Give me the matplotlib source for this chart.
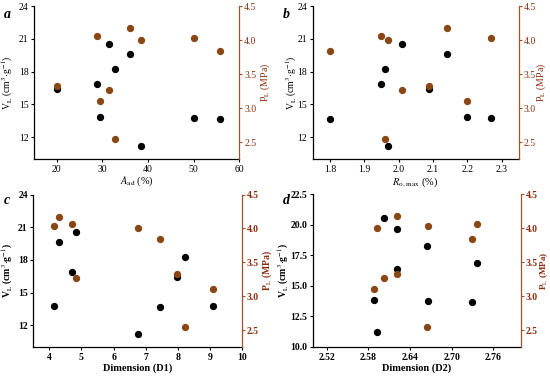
import matplotlib
matplotlib.use("Agg")
import matplotlib.pyplot as plt

plt.rcParams['font.family'] = ['Liberation Serif', 'DejaVu Serif']
plt.rcParams['mathtext.fontset'] = 'stix'

# nine samples
aad = [20.0, 31.4, 36.0, 32.8, 28.8, 29.4, 38.5, 50.1, 55.8]
ro_max = [2.09, 2.01, 2.14, 1.96, 1.95, 2.20, 1.97, 2.27, 1.80]
d1 = [7.97, 4.82, 4.31, 8.21, 4.70, 9.10, 6.75, 4.16, 7.44]
d2 = [2.621, 2.603, 2.621, 2.664, 2.736, 2.589, 2.593, 2.666, 2.729]
vl = [16.40, 20.53, 19.63, 18.27, 16.90, 13.80, 11.20, 13.72, 13.66]
pl = [3.32, 3.27, 4.17, 2.55, 4.06, 3.10, 4.00, 4.03, 3.84]

panel_letters = ['a', 'b', 'c', 'd']
xlabels = [r'$A_{\rm ad}$ (%)', r'$R_{\rm o,\,max}$ (%)', 'Dimension (D1)', 'Dimension (D2)']
xticks = [[20, 30, 40, 50, 60], [1.8, 1.9, 2.0, 2.1, 2.2, 2.3],
          [4, 5, 6, 7, 8, 9, 10], [2.52, 2.58, 2.64, 2.70, 2.76]]
xlims = [(15, 60), (1.75, 2.35), (3.5, 10), (2.5, 2.8)]
xfmt = ['{:.0f}', '{:.1f}', '{:.0f}', '{:.2f}']
ylims = [(10, 24), (10, 24), (10, 24), (10, 22.5)]
yticks = [[12, 15, 18, 21, 24]] * 3 + [[10.0, 12.5, 15.0, 17.5, 20.0, 22.5]]
yfmt = ['{:.0f}', '{:.0f}', '{:.0f}', '{:.1f}']
rticks = [2.5, 3.0, 3.5, 4.0, 4.5]
rlim = (2.25, 4.5)
bold = [False, False, True, True]

W, H = 550, 376
boxes = [(34, 6, 239.3, 159), (312.7, 6, 518.7, 159),
         (33.3, 194.5, 242, 347), (312.7, 194, 521, 347)]
letter_pos = [(4, 14), (283, 14), (4, 200), (283, 200)]
ylab_x = [(7, 265), (291, 541), (7, 267), (283.5, 544.5)]
rlab_size = [7, 7, 7, 6.5]
xdata = [aad, ro_max, d1, d2]

brown = '#8a4714'
spine_brown = '#a0522d'
label_red = '#8b2c0c'

fig = plt.figure(figsize=(W / 100, H / 100), dpi=100)
for i in range(4):
    l, t, r, b = boxes[i]
    ax = fig.add_axes([l / W, 1 - b / H, (r - l) / W, (b - t) / H])
    ax2 = ax.twinx()
    wt = 'bold' if bold[i] else 'normal'
    ax.scatter(xdata[i], vl, s=18, color='black', zorder=3)
    ax2.scatter(xdata[i], pl, s=18, color=brown, zorder=3)
    ax.set_xlim(*xlims[i])
    ax.set_ylim(*ylims[i])
    ax2.set_ylim(*rlim)
    ax.set_xticks(xticks[i])
    ax.set_xticklabels([xfmt[i].format(v) for v in xticks[i]], fontsize=7, fontweight=wt)
    ax.set_yticks(yticks[i])
    ax.set_yticklabels([yfmt[i].format(v) for v in yticks[i]], fontsize=7, fontweight=wt)
    ax2.set_yticks(rticks)
    ax2.set_yticklabels(['{:.1f}'.format(v) for v in rticks], fontsize=7,
                        fontweight=wt, color=label_red)
    for a_ in (ax, ax2):
        a_.spines['top'].set_visible(False)
    ax.spines['right'].set_visible(False)
    ax2.spines['left'].set_visible(False)
    ax2.spines['bottom'].set_visible(False)
    ax2.spines['right'].set_color(spine_brown)
    ax2.tick_params(axis='y', colors=spine_brown, length=2.5, width=0.8, pad=1,
                    labelcolor=label_red)
    ax.tick_params(axis='both', length=2.5, width=0.8, pad=1.5)
    for sp in ('left', 'bottom'):
        ax.spines[sp].set_linewidth(0.9)
    ax2.spines['right'].set_linewidth(0.9)
    ax.set_xlabel(xlabels[i], fontsize=7.5, fontweight=wt, labelpad=1)
    yc = 1 - (t + b) / 2 / H
    fig.text(ylab_x[i][0] / W, yc, r'V$_{\rm L}$ (cm$^{3}$$\cdot$g$^{-1}$)', fontsize=7,
             fontweight=wt, rotation=90, ha='center', va='center')
    fig.text(ylab_x[i][1] / W, yc, r'P$_{\rm L}$ (MPa)', fontsize=rlab_size[i], fontweight=wt,
             color=label_red, rotation=90, ha='center', va='center')
    lx, ly = letter_pos[i]
    fig.text(lx / W, 1 - ly / H, panel_letters[i], fontsize=10, fontweight='bold',
             fontstyle='italic', ha='left', va='center')

fig.savefig('out.png', dpi=100)
